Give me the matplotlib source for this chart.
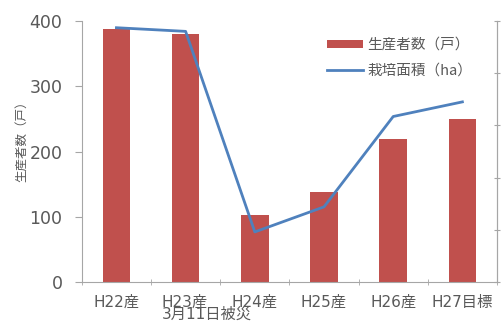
import numpy as np
import matplotlib.pyplot as plt
from matplotlib.transforms import ScaledTranslation

plt.rcParams['font.family'] = ['DejaVu Sans', 'Noto Sans CJK JP']

categories = ['H22産', 'H23産\n3月11日被災', 'H24産', 'H25産', 'H26産', 'H27目標']
producers = [388, 380, 103, 138, 219, 250]          # 生産者数（戸）
area_ha = [48.7, 48.0, 9.6, 14.4, 31.7, 34.5]       # 栽培面積（ha）

bar_color = '#C0504D'
line_color = '#4F81BD'
axis_gray = '#A6A6A6'
text_gray = '#595959'

fig = plt.figure(figsize=(5.02, 3.22), dpi=100)
ax = fig.add_axes([0.163, 0.124, 0.827, 0.811])
x = np.arange(len(categories))

ax.bar(x, producers, width=0.4, color=bar_color, label='生産者数（戸）', zorder=2)
ax.set_xlim(-0.5, len(categories) - 0.5)
ax.set_ylim(0, 400)
ax.set_yticks([0, 100, 200, 300, 400])
ax.tick_params(axis='y', labelsize=12.5, labelcolor=text_gray, color=axis_gray,
               length=5, width=0.8, pad=9)
ax.set_xticks(x)
ax.set_xticklabels(categories, fontsize=11, color=text_gray, linespacing=0.8)
ax.tick_params(axis='x', length=0, pad=9)
ax.set_xticks(np.arange(-0.5, len(categories)), minor=True)
ax.tick_params(axis='x', which='minor', length=4, color=axis_gray, direction='inout')

# the two-line label hangs left-aligned from under its category
lab = ax.get_xticklabels()[1]
lab.set_horizontalalignment('left')
lab.set_multialignment('left')
lab.set_transform(lab.get_transform() + ScaledTranslation(-24 / 100, 0, fig.dpi_scale_trans))

ax.set_ylabel('生産者数（戸）', fontsize=9, color=text_gray,
              family=['Noto Sans CJK JP'])
ax.yaxis.set_label_coords(-0.13, 0.55)
ax.spines['top'].set_visible(False)
for s in ['left', 'bottom', 'right']:
    ax.spines[s].set_color(axis_gray)
    ax.spines[s].set_linewidth(0.8)

ax2 = ax.twinx()
ax2.plot(x, area_ha, color=line_color, lw=2, label='栽培面積（ha）', zorder=3)
ax2.set_ylim(0, 50)
ax2.set_yticks(np.arange(0, 51, 10))
ax2.tick_params(axis='y', labelright=False, color=axis_gray, length=5,
                direction='inout', width=0.8)
ax2.spines['top'].set_visible(False)
ax2.spines['right'].set_color(axis_gray)
ax2.spines['right'].set_linewidth(0.8)
ax2.spines['left'].set_visible(False)
ax2.spines['bottom'].set_visible(False)

h1, l1 = ax.get_legend_handles_labels()
h2, l2 = ax2.get_legend_handles_labels()
leg = ax2.legend(h1 + h2, l1 + l2, loc='upper left', bbox_to_anchor=(0.59, 0.935),
                 frameon=False, prop={'family': ['Noto Sans CJK JP'], 'size': 10.5},
                 borderaxespad=0, borderpad=0, handlelength=2.5, handleheight=0.5,
                 handletextpad=0.3, labelspacing=0.8)
for t in leg.get_texts():
    t.set_color(text_gray)

fig.savefig('out.png', dpi=100)
